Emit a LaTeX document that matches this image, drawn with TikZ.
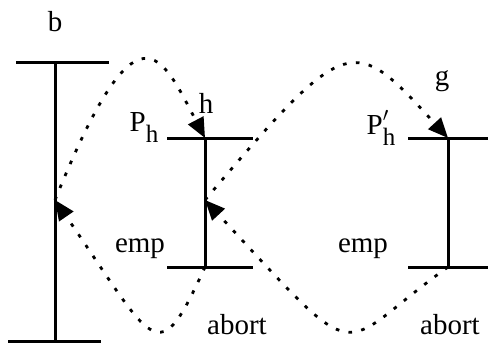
\documentclass[tikz,border=0pt]{standalone}
\usepackage{fontspec}
\setmainfont{Liberation Serif}
\usepackage{tikz}
\usetikzlibrary{calc,arrows.meta}

\tikzset{
    bar/.style = {line width=1.5pt},
    flow/.style = {line width=1.4pt, dash pattern=on 1.8pt off 4.7pt,
        -{Triangle[length=10pt,width=8.5pt]}},
    lbl/.style = {inner sep=0pt, font=\fontsize{14.5}{17}\selectfont},
}
\newcommand{\subh}{\raisebox{-5.5pt}{\fontsize{12.5}{14}\selectfont h}}

\begin{document}
\begin{tikzpicture}[x=0.5pt,y=-0.5pt]
        \useasboundingbox (0,0) rectangle (488,343);
        \coordinate (bTop) at (55,62);
        \coordinate (bMid) at (55,200);
        \coordinate (bBot) at (55,341);
        \coordinate (hTop) at (205,138);
        \coordinate (hMid) at (205,200);
        \coordinate (hBot) at (205,267);
        \coordinate (gTop) at (448,138);
        \coordinate (gBot) at (448,267);

        % the three lines
        \draw[bar] ($(bTop)+(-39,0)$) -- ++(93,0);
        \draw[bar] ($(bBot)+(-47,0)$) -- ++(93,0);
        \draw[bar] (bTop) -- (bBot);
        \draw[bar] ($(hTop)+(-38,0)$) -- ++(86,0);
        \draw[bar] ($(hBot)+(-38,0)$) -- ++(86,0);
        \draw[bar] (hTop) -- (hBot);
        \draw[bar] ($(gTop)+(-40,0)$) -- ++(85,0);
        \draw[bar] ($(gBot)+(-40,0)$) -- ++(85,0);
        \draw[bar] (gTop) -- (gBot);

        \node[lbl] (bLbl) at (55,22) {b};
        \node[lbl] (hLbl) at (206,103) {h};
        \node[lbl] (gLbl) at (442,81) {g};
        \node[lbl] (pLbl) at (144,128) {P\subh};
        \node[lbl] (ppLbl) at (381,128) {P\rlap{\raisebox{1pt}{${}'$}}\subh};
        \node[lbl] (empL) at (140,249) {emp};
        \node[lbl] (empR) at (363,249) {emp};
        \node[lbl] (abortL) at (237,325) {abort};
        \node[lbl] (abortR) at (450,325) {abort};

        % the jumps
        \draw[flow] (bMid) .. controls (138,-5) and (161,54) .. (hTop);
        \draw[flow] (hBot) .. controls (157,372) and (156,347) .. (bMid);
        \draw[flow] (hMid) .. controls (349,30) and (353,34) .. (gTop);
        \draw[flow] (gBot) .. controls (333,349) and (368,376) .. (hMid);
    \end{tikzpicture}
\end{document}
